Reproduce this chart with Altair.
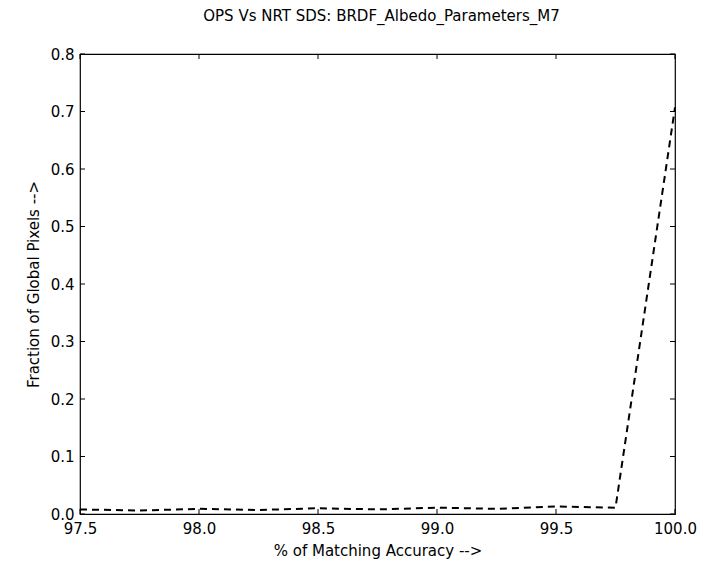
import altair as alt
import pandas as pd

accuracy = [97.5, 97.75, 98.0, 98.25, 98.5, 98.75, 99.0, 99.25, 99.5, 99.75, 100.0]
fraction = [0.008, 0.006, 0.009, 0.007, 0.010, 0.008, 0.011, 0.009, 0.013, 0.011, 0.707]
x_ticks = [97.5, 98.0, 98.5, 99.0, 99.5, 100.0]
y_ticks = [0.0, 0.1, 0.2, 0.3, 0.4, 0.5, 0.6, 0.7, 0.8]

W, H = 595, 460
FONT = "DejaVu Sans"

df = pd.DataFrame({"acc": accuracy, "frac": fraction})
xt = pd.DataFrame({"v": x_ticks})
yt = pd.DataFrame({"v": y_ticks})

xscale = alt.Scale(domain=[97.5, 100.0], nice=False, zero=False)
yscale = alt.Scale(domain=[0.0, 0.8], nice=False, zero=False)

line = alt.Chart(df).mark_line(color="black", strokeWidth=2, strokeDash=[7, 5]).encode(
    x=alt.X("acc:Q", scale=xscale,
            axis=alt.Axis(title="% of Matching Accuracy -->", values=x_ticks, format=".1f",
                          tickSize=0, labelPadding=7, titlePadding=7, grid=False,
                          domain=False, labelFlush=False)),
    y=alt.Y("frac:Q", scale=yscale,
            axis=alt.Axis(title="Fraction of Global Pixels -->", values=y_ticks, format=".1f",
                          tickSize=0, labelPadding=6, titlePadding=9, grid=False,
                          domain=False)),
)

tick_len = 5
xb = alt.Chart(xt).mark_rule(color="black", strokeWidth=1).encode(
    x=alt.X("v:Q", scale=xscale), y=alt.value(H), y2=alt.value(H - tick_len))
xtop = alt.Chart(xt).mark_rule(color="black", strokeWidth=1).encode(
    x=alt.X("v:Q", scale=xscale), y=alt.value(0), y2=alt.value(tick_len))
yl = alt.Chart(yt).mark_rule(color="black", strokeWidth=1).encode(
    y=alt.Y("v:Q", scale=yscale), x=alt.value(0), x2=alt.value(tick_len))
yr = alt.Chart(yt).mark_rule(color="black", strokeWidth=1).encode(
    y=alt.Y("v:Q", scale=yscale), x=alt.value(W), x2=alt.value(W - tick_len))

chart = alt.layer(line, xb, xtop, yl, yr).properties(
    width=W, height=H,
    title=alt.TitleParams("OPS Vs NRT SDS: BRDF_Albedo_Parameters_M7", font=FONT,
                          fontSize=15, fontWeight="normal", offset=23, dx=4),
    autosize=alt.AutoSizeParams(type="none"),
    padding={"left": 72, "top": 46, "right": 23, "bottom": 50},
).configure_axis(
    labelFont=FONT, titleFont=FONT, labelFontSize=15, titleFontSize=15,
    titleFontWeight="normal", labelColor="black", titleColor="black",
).configure_view(stroke="black", strokeWidth=1.2)

chart.save("out.html", embed_options={"renderer": "svg", "actions": False})
